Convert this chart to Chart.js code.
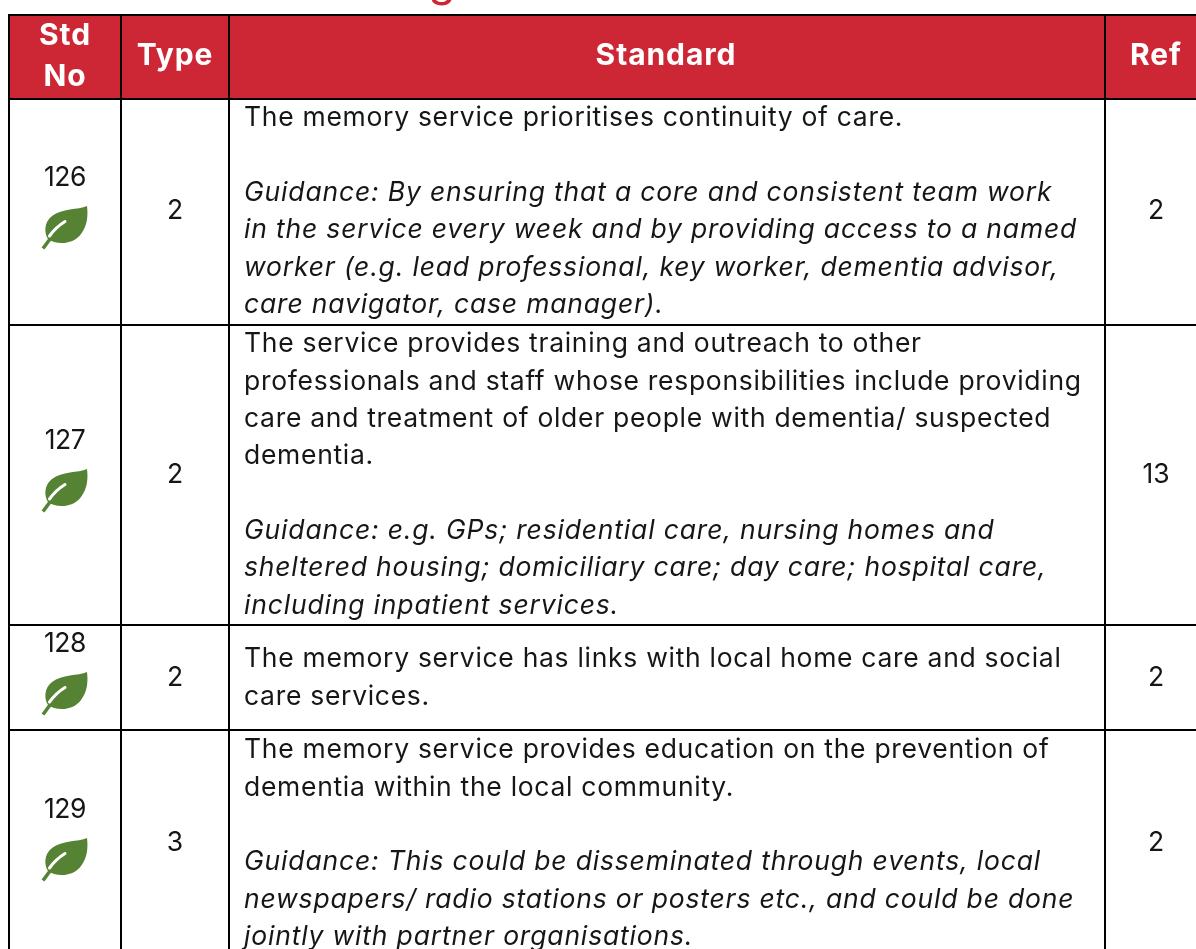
<!DOCTYPE html>
<html><head><meta charset="utf-8">
<style>html,body{margin:0;padding:0;background:#fff}canvas{display:block}</style>
<script src="https://cdn.jsdelivr.net/npm/chart.js@4"></script>
</head><body><canvas id="c" width="1196" height="949"></canvas>
<script>
const headers = [["Std","No"],["Type"],["Standard"],["Ref"]];
const stdNo = ["126","127","128","129"];
const types = ["2","2","2","3"];
const refs = ["2","13","2","2"];
const standards = [
 ["The memory service prioritises continuity of care.","",
  "Guidance: By ensuring that a core and consistent team work","in the service every week and by providing access to a named","worker (e.g. lead professional, key worker, dementia advisor,","care navigator, case manager)."],
 ["The service provides training and outreach to other","professionals and staff whose responsibilities include providing","care and treatment of older people with dementia/ suspected","dementia.","",
  "Guidance: e.g. GPs; residential care, nursing homes and","sheltered housing; domiciliary care; day care; hospital care,","including inpatient services."],
 ["The memory service has links with local home care and social","care services."],
 ["The memory service provides education on the prevention of","dementia within the local community.","",
  "Guidance: This could be disseminated through events, local","newspapers/ radio stations or posters etc., and could be done","jointly with partner organisations."]
];
const colEdges = [9,121,229,1105];
const rowEdges = [15,99,325,625,730];
const headerBand = [15,99];
const firstLineY = [118.5,344.5,659.5,750.5];
const stdY = [178.5,441.5,644.5,810.5];
const midY = [211.5,475.5,678.5,843.5];
const leafY = [228,491,694,860];
const colMid = [65,175,666,1156];
const stdMid = [36,77];

const RED="#cd2736", GREEN="#568234", INK="#161616";
const FONT='Inter';

function leaf(){
  const c=document.createElement('canvas');c.width=48;c.height=46;
  const g=c.getContext('2d');g.translate(1,1);
  g.fillStyle=GREEN;g.beginPath();
  g.moveTo(45,0);
  g.bezierCurveTo(36,4,20,2,10,10);
  g.bezierCurveTo(2,16,2,27,6,33);
  g.bezierCurveTo(14,39,31,39,39,28);
  g.bezierCurveTo(46,19,46,8,45,0);g.fill();
  g.strokeStyle=GREEN;g.lineWidth=3.5;g.beginPath();g.moveTo(1,42.5);g.lineTo(8,33);g.stroke();
  g.strokeStyle='#fff';g.lineWidth=3;g.lineCap='round';g.beginPath();g.moveTo(23,15.5);g.quadraticCurveTo(14,21,7.5,30);g.stroke();
  return c;
}
const leafImg=leaf();

const tableText={id:'tableText',afterDatasetsDraw(chart){
  const {ctx,scales:{x,y}}=chart;
  ctx.save();ctx.textBaseline='middle';
  const put=(s,px,py,font,col,al,ls)=>{ctx.letterSpacing=ls;ctx.font=font;ctx.fillStyle=col;ctx.textAlign=al;ctx.fillText(s,x.getPixelForValue(px),y.getPixelForValue(py));};
  const hf=`700 30px ${FONT}`;
  put(headers[0][0],colMid[0],stdMid[0],hf,'#fff','center','0.9px');
  put(headers[0][1],colMid[0],stdMid[1],hf,'#fff','center','0.9px');
  const hy=(headerBand[0]+headerBand[1])/2-1;
  [1,2,3].forEach(i=>put(headers[i][0],colMid[i],hy,hf,'#fff','center','0.9px'));
  const bf=`400 26.5px ${FONT}`, itf=`italic 400 26.5px ${FONT}`;
  stdNo.forEach((s,i)=>{
    put(s,colMid[0],stdY[i],bf,INK,'center','-0.5px');
    put(types[i],colMid[1],midY[i],bf,INK,'center','0px');
    put(refs[i],colMid[3],midY[i],bf,INK,'center','0px');
    let it=false;
    standards[i].forEach((l,j)=>{ if(l==='')it=true; else put(l,colEdges[2]+15,firstLineY[i]+j*37.33,it?itf:bf,INK,'left',it?'0.82px':'0.7px'); });
  });
  ctx.letterSpacing='0px';
  ctx.font=`400 44px ${FONT}`;ctx.fillStyle=RED;ctx.textAlign='center';ctx.textBaseline='alphabetic';
  ctx.fillText('g',442,-4);
  ctx.restore();
}};

new Chart(document.getElementById('c'),{
  type:'scatter',
  data:{datasets:[
    {data:[{x:colEdges[0],y:headerBand[0]},{x:1196,y:headerBand[0]}],showLine:true,pointRadius:0,borderWidth:0,borderColor:RED,backgroundColor:RED,fill:'+1'},
    {data:[{x:colEdges[0],y:headerBand[1]},{x:1196,y:headerBand[1]}],showLine:true,pointRadius:0,borderWidth:0,borderColor:RED,backgroundColor:RED,fill:false},
    {data:leafY.map(v=>({x:colMid[0],y:v})),pointStyle:leafImg,pointRadius:23,backgroundColor:GREEN,borderColor:GREEN}
  ]},
  options:{
    responsive:false,animation:false,
    layout:{autoPadding:false,padding:{left:8,top:14,right:0,bottom:0}},
    plugins:{legend:{display:false},tooltip:{enabled:false}},
    scales:{
      x:{type:'linear',min:8,max:1196,afterBuildTicks(s){s.ticks=colEdges.map(v=>({value:v}));},
         ticks:{display:false},border:{display:false},
         grid:{color:'#000',lineWidth:2,drawTicks:false,z:1}},
      y:{type:'linear',reverse:true,min:14,max:949,afterBuildTicks(s){s.ticks=rowEdges.map(v=>({value:v}));},
         ticks:{display:false},border:{display:false},
         grid:{color:'#000',lineWidth:2,drawTicks:false,z:1}}
    }
  },
  plugins:[tableText]
});
</script></body></html>
